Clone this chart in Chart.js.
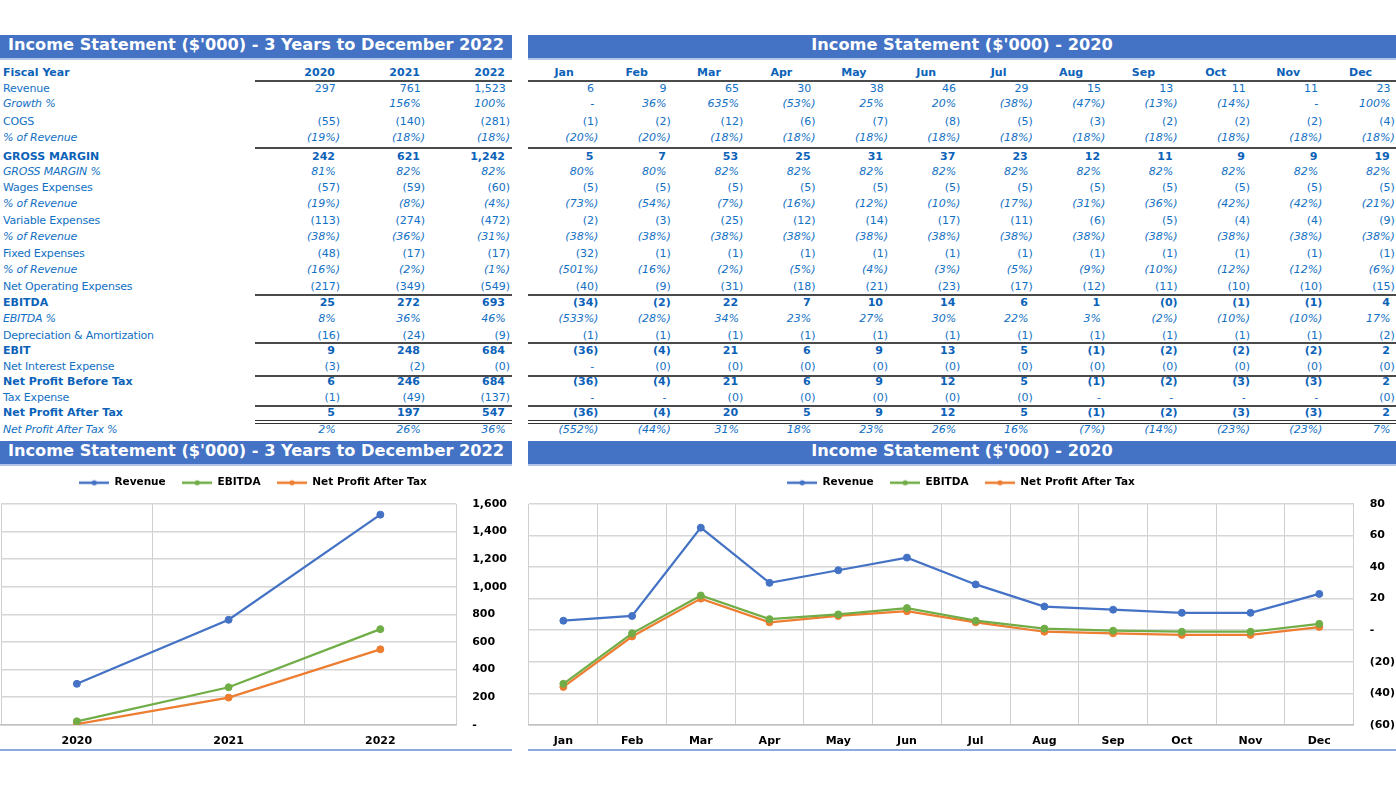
<!DOCTYPE html>
<html lang="en">
<head>
<meta charset="UTF-8">
<title>Income Statement</title>
<script src="https://cdn.jsdelivr.net/npm/chart.js"></script>
<style>
    body, html {
        margin: 0;
        padding: 0;
        width: 1396px;
        height: 786px;
        overflow: hidden;
        background: #fff;
    }
    .bar {
        position: absolute;
        height: 23px;
        line-height: 23px;
        background: #4472C4;
        color: #fff;
        font: bold 16.2px "DejaVu Sans";
        text-align: center;
        white-space: nowrap;
        border-bottom: 2px solid #B4C6E7;
    }
    .row {
        position: absolute;
        left: 0;
        width: 1396px;
        height: 16px;
        line-height: 16px;
        font: 11px "DejaVu Sans";
        color: #1270C4;
        white-space: nowrap;
    }
    .row .cell { position: absolute; top: 0; }
    .row .pad { visibility: hidden; }
    .row .lab { letter-spacing: -0.2px; }
    .b { font-weight: bold; color: #0B62B8; }
    .b .lab { letter-spacing: 0; }
    .i { font-style: italic; }
    .rule { position: absolute; height: 0; border-top: 2px solid #4a4a4a; }
    .rule.thin { border-top-width: 1px; border-top-color: #333; }
    .foot { position: absolute; top: 749px; height: 2px; background: #8EA9DB; }
    .chartbox { position: absolute; }
</style>
</head>
<body>
    <div class="bar" style="left:0; top:35px; width:512px;">Income Statement ($'000) - 3 Years to December 2022</div>
    <div class="bar" style="left:528px; top:35px; width:868px;">Income Statement ($'000) - 2020</div>
    <div class="bar" style="left:0; top:441px; width:512px;">Income Statement ($'000) - 3 Years to December 2022</div>
    <div class="bar" style="left:528px; top:441px; width:868px;">Income Statement ($'000) - 2020</div>

    <div id="table"></div>

    <div class="chartbox" style="left:-4px; top:456px; width:516px; height:295px;"><canvas id="yearChart"></canvas></div>
    <div class="chartbox" style="left:524px; top:456px; width:876px; height:295px;"><canvas id="monthChart"></canvas></div>

    <div class="foot" style="left:0; width:512px;"></div>
    <div class="foot" style="left:528px; width:868px;"></div>

    <script>
        const yearLabels = ['2020', '2021', '2022'];
        const monthLabels = ['Jan', 'Feb', 'Mar', 'Apr', 'May', 'Jun', 'Jul', 'Aug', 'Sep', 'Oct', 'Nov', 'Dec'];

        const yearRevenue = [297, 761, 1523];
        const yearEbitda = [25, 272, 693];
        const yearNetProfit = [5, 197, 547];

        const monthRevenue = [6, 9, 65, 30, 38, 46, 29, 15, 13, 11, 11, 23];
        const monthEbitda = [-34, -2, 22, 7, 10, 14, 6, 1, -0.3, -1, -1, 4];
        const monthNetProfit = [-36, -4, 20, 5, 9, 12, 5, -1, -2, -3, -3, 2];

        const yearAxisRange = [0, 1600, 200];
        const monthAxisRange = [-60, 80, 20];

        const seriesNames = ['Revenue', 'EBITDA', 'Net Profit After Tax'];

        // table rows: label, 3 year values, 12 month values
        const tableRows = [
            ['Revenue', ['297', '761', '1,523'], ['6', '9', '65', '30', '38', '46', '29', '15', '13', '11', '11', '23']],
            ['Growth %', ['', '156%', '100%'], ['-', '36%', '635%', '(53%)', '25%', '20%', '(38%)', '(47%)', '(13%)', '(14%)', '-', '100%']],
            ['COGS', ['(55)', '(140)', '(281)'], ['(1)', '(2)', '(12)', '(6)', '(7)', '(8)', '(5)', '(3)', '(2)', '(2)', '(2)', '(4)']],
            ['% of Revenue', ['(19%)', '(18%)', '(18%)'], ['(20%)', '(20%)', '(18%)', '(18%)', '(18%)', '(18%)', '(18%)', '(18%)', '(18%)', '(18%)', '(18%)', '(18%)']],
            ['GROSS MARGIN', ['242', '621', '1,242'], ['5', '7', '53', '25', '31', '37', '23', '12', '11', '9', '9', '19']],
            ['GROSS MARGIN %', ['81%', '82%', '82%'], ['80%', '80%', '82%', '82%', '82%', '82%', '82%', '82%', '82%', '82%', '82%', '82%']],
            ['Wages Expenses', ['(57)', '(59)', '(60)'], ['(5)', '(5)', '(5)', '(5)', '(5)', '(5)', '(5)', '(5)', '(5)', '(5)', '(5)', '(5)']],
            ['% of Revenue', ['(19%)', '(8%)', '(4%)'], ['(73%)', '(54%)', '(7%)', '(16%)', '(12%)', '(10%)', '(17%)', '(31%)', '(36%)', '(42%)', '(42%)', '(21%)']],
            ['Variable Expenses', ['(113)', '(274)', '(472)'], ['(2)', '(3)', '(25)', '(12)', '(14)', '(17)', '(11)', '(6)', '(5)', '(4)', '(4)', '(9)']],
            ['% of Revenue', ['(38%)', '(36%)', '(31%)'], ['(38%)', '(38%)', '(38%)', '(38%)', '(38%)', '(38%)', '(38%)', '(38%)', '(38%)', '(38%)', '(38%)', '(38%)']],
            ['Fixed Expenses', ['(48)', '(17)', '(17)'], ['(32)', '(1)', '(1)', '(1)', '(1)', '(1)', '(1)', '(1)', '(1)', '(1)', '(1)', '(1)']],
            ['% of Revenue', ['(16%)', '(2%)', '(1%)'], ['(501%)', '(16%)', '(2%)', '(5%)', '(4%)', '(3%)', '(5%)', '(9%)', '(10%)', '(12%)', '(12%)', '(6%)']],
            ['Net Operating Expenses', ['(217)', '(349)', '(549)'], ['(40)', '(9)', '(31)', '(18)', '(21)', '(23)', '(17)', '(12)', '(11)', '(10)', '(10)', '(15)']],
            ['EBITDA', ['25', '272', '693'], ['(34)', '(2)', '22', '7', '10', '14', '6', '1', '(0)', '(1)', '(1)', '4']],
            ['EBITDA %', ['8%', '36%', '46%'], ['(533%)', '(28%)', '34%', '23%', '27%', '30%', '22%', '3%', '(2%)', '(10%)', '(10%)', '17%']],
            ['Depreciation & Amortization', ['(16)', '(24)', '(9)'], ['(1)', '(1)', '(1)', '(1)', '(1)', '(1)', '(1)', '(1)', '(1)', '(1)', '(1)', '(2)']],
            ['EBIT', ['9', '248', '684'], ['(36)', '(4)', '21', '6', '9', '13', '5', '(1)', '(2)', '(2)', '(2)', '2']],
            ['Net Interest Expense', ['(3)', '(2)', '(0)'], ['-', '(0)', '(0)', '(0)', '(0)', '(0)', '(0)', '(0)', '(0)', '(0)', '(0)', '(0)']],
            ['Net Profit Before Tax', ['6', '246', '684'], ['(36)', '(4)', '21', '6', '9', '12', '5', '(1)', '(2)', '(3)', '(3)', '2']],
            ['Tax Expense', ['(1)', '(49)', '(137)'], ['-', '-', '(0)', '(0)', '(0)', '(0)', '(0)', '-', '-', '-', '-', '(0)']],
            ['Net Profit After Tax', ['5', '197', '547'], ['(36)', '(4)', '20', '5', '9', '12', '5', '(1)', '(2)', '(3)', '(3)', '2']],
            ['Net Profit After Tax %', ['2%', '26%', '36%'], ['(552%)', '(44%)', '31%', '18%', '23%', '26%', '16%', '(7%)', '(14%)', '(23%)', '(23%)', '7%']]
        ];

        // layout of the table (row centres, styles, rule lines)
        const headerY = 73;
        const rowY = [89, 104, 122, 138, 157, 172, 188, 204, 221, 237, 254, 270, 287, 303, 319, 336, 351, 367, 382, 398, 413, 430];
        const rowStyle = ['', 'i', '', 'i', 'b', 'i', '', 'i', '', 'i', '', 'i', '', 'b', 'i', '', 'b', '', 'b', '', 'b', 'i'];
        const ruleY = [80, 147, 294, 342, 375, 405];
        const doubleRuleY = [420, 423];
        const yearRight = [340, 425, 510];
        const monthLeft = 528, monthWidth = 72.4;

        const table = document.getElementById('table');

        function addRow(y, cls) {
            const r = document.createElement('div');
            r.className = 'row ' + cls;
            r.style.top = (y - 7) + 'px';
            table.appendChild(r);
            return r;
        }

        function addNum(row, text, rightEdge) {
            const c = document.createElement('div');
            c.className = 'cell';
            c.style.right = (1396 - rightEdge) + 'px';
            c.textContent = text;
            if (!text.endsWith(')')) {
                const p = document.createElement('span');
                p.className = 'pad';
                p.textContent = ')';
                c.appendChild(p);
            }
            row.appendChild(c);
        }

        function addLabel(row, text) {
            const c = document.createElement('div');
            c.className = 'cell lab';
            c.style.left = '3px';
            c.textContent = text;
            row.appendChild(c);
        }

        // header row
        const head = addRow(headerY, 'b');
        addLabel(head, 'Fiscal Year');
        yearLabels.forEach((y, k) => addNum(head, y, yearRight[k]));
        monthLabels.forEach((m, k) => {
            const c = document.createElement('div');
            c.className = 'cell';
            c.style.left = (monthLeft + monthWidth * k) + 'px';
            c.style.width = monthWidth + 'px';
            c.style.textAlign = 'center';
            c.textContent = m;
            head.appendChild(c);
        });

        tableRows.forEach((r, i) => {
            const row = addRow(rowY[i], rowStyle[i]);
            addLabel(row, r[0]);
            r[1].forEach((v, k) => { if (v) addNum(row, v, yearRight[k]); });
            r[2].forEach((v, k) => addNum(row, v, monthLeft + monthWidth * (k + 1) - 2));
        });

        function addRule(y, cls) {
            [[255, 512], [528, 1396]].forEach(([a, b]) => {
                const l = document.createElement('div');
                l.className = cls;
                l.style.top = y + 'px';
                l.style.left = a + 'px';
                l.style.width = (b - a) + 'px';
                table.appendChild(l);
            });
        }
        ruleY.forEach(y => addRule(y, 'rule'));
        doubleRuleY.forEach(y => addRule(y, 'rule thin'));

        // charts
        const colors = ['#4472C4', '#70AD47', '#ED7D31'];

        function legendMark(color) {
            const c = document.createElement('canvas');
            c.width = 30;
            c.height = 8;
            const g = c.getContext('2d');
            g.strokeStyle = color;
            g.lineWidth = 2.5;
            g.beginPath();
            g.moveTo(0, 4);
            g.lineTo(30, 4);
            g.stroke();
            g.fillStyle = color;
            g.beginPath();
            g.arc(15, 4, 2.6, 0, Math.PI * 2);
            g.fill();
            return c;
        }
        const marks = colors.map(legendMark);

        // push the plot area a bit further below the legend
        const legendGap = {
            id: 'legendGap',
            beforeInit(chart) {
                const fit = chart.legend.fit;
                chart.legend.fit = function () {
                    fit.call(this);
                    this.height += 6;
                };
            }
        };

        const axisFont = { family: 'DejaVu Sans', size: 11, weight: 'bold' };

        function makeChart(id, labels, series, range, fmt) {
            const ctx = document.getElementById(id).getContext('2d');
            return new Chart(ctx, {
                type: 'line',
                data: {
                    labels: labels,
                    datasets: series.map((d, k) => ({
                        label: seriesNames[k],
                        data: d,
                        borderColor: colors[k],
                        backgroundColor: colors[k],
                        borderWidth: 2.25,
                        pointRadius: 3.5,
                        pointBorderWidth: 1,
                        tension: 0
                    }))
                },
                options: {
                    responsive: true,
                    maintainAspectRatio: false,
                    animation: false,
                    layout: { padding: { top: 5, right: 2 } },
                    scales: {
                        x: {
                            offset: true,
                            grid: { offset: true, color: '#CFCFCF', lineWidth: 1, tickLength: 7, tickColor: 'transparent' },
                            border: { display: true, color: '#BFBFBF', width: 1.5 },
                            ticks: { color: '#000', font: axisFont, padding: 3 }
                        },
                        y: {
                            position: 'right',
                            min: range[0],
                            max: range[1],
                            grid: { color: '#D6D6D6', lineWidth: 1.5, tickLength: 13, tickColor: 'transparent' },
                            border: { display: false },
                            ticks: { stepSize: range[2], color: '#000', font: axisFont, padding: 3, callback: fmt }
                        }
                    },
                    plugins: {
                        legend: {
                            labels: {
                                usePointStyle: true,
                                pointStyleWidth: 30,
                                padding: 16.5,
                                color: '#000',
                                font: { family: 'DejaVu Sans', size: 10.5, weight: 'bold' },
                                generateLabels(chart) {
                                    const items = Chart.defaults.plugins.legend.labels.generateLabels(chart);
                                    items.forEach((it, k) => { it.pointStyle = marks[k]; });
                                    return items;
                                }
                            }
                        },
                        tooltip: { enabled: false }
                    }
                },
                plugins: [legendGap]
            });
        }

        makeChart('yearChart', yearLabels, [yearRevenue, yearEbitda, yearNetProfit], yearAxisRange,
            v => v === 0 ? '-' : v.toLocaleString('en-US'));
        makeChart('monthChart', monthLabels, [monthRevenue, monthEbitda, monthNetProfit], monthAxisRange,
            v => v === 0 ? '-' : (v < 0 ? '(' + (-v) + ')' : String(v)));
    </script>
</body>
</html>
